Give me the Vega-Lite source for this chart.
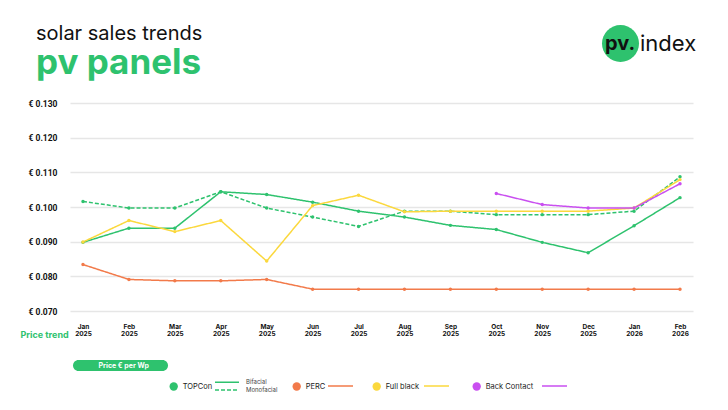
{
  "$schema": "https://vega.github.io/schema/vega-lite/v6.json",
  "width": 623,
  "height": 208,
  "autosize": {"type": "none"},
  "padding": {"left": 70, "top": 103, "right": 35, "bottom": 99},
  "background": "white",
  "config": {
    "view": {"stroke": null},
    "font": "Inter",
    "axisY": {"labelOverlap": false, "labelBound": false, "labelSeparation": 0, "tickCount": 10}
  },
  "title": {
    "text": "solar sales trends",
    "subtitle": "pv panels",
    "anchor": "start",
    "frame": "group",
    "dx": -34,
    "offset": -56,
    "font": "Inter",
    "fontSize": 20,
    "fontWeight": 400,
    "color": "#111111",
    "subtitleFont": "Inter",
    "subtitleFontSize": 35,
    "subtitleFontWeight": 700,
    "subtitleColor": "#2ec26e",
    "subtitlePadding": 2
  },
  "datasets": {
    "prices": [
      {"m": "Jan 2025", "t": "TOPCon", "v": "Bifacial", "p": 0.0898},
      {"m": "Feb 2025", "t": "TOPCon", "v": "Bifacial", "p": 0.0939},
      {"m": "Mar 2025", "t": "TOPCon", "v": "Bifacial", "p": 0.0939},
      {"m": "Apr 2025", "t": "TOPCon", "v": "Bifacial", "p": 0.1044},
      {"m": "May 2025", "t": "TOPCon", "v": "Bifacial", "p": 0.1036},
      {"m": "Jun 2025", "t": "TOPCon", "v": "Bifacial", "p": 0.1014},
      {"m": "Jul 2025", "t": "TOPCon", "v": "Bifacial", "p": 0.0988},
      {"m": "Aug 2025", "t": "TOPCon", "v": "Bifacial", "p": 0.0971},
      {"m": "Sep 2025", "t": "TOPCon", "v": "Bifacial", "p": 0.0947},
      {"m": "Oct 2025", "t": "TOPCon", "v": "Bifacial", "p": 0.0935},
      {"m": "Nov 2025", "t": "TOPCon", "v": "Bifacial", "p": 0.0898},
      {"m": "Dec 2025", "t": "TOPCon", "v": "Bifacial", "p": 0.0868},
      {"m": "Jan 2026", "t": "TOPCon", "v": "Bifacial", "p": 0.0946},
      {"m": "Feb 2026", "t": "TOPCon", "v": "Bifacial", "p": 0.1027},
      {"m": "Jan 2025", "t": "TOPCon", "v": "Monofacial", "p": 0.1016},
      {"m": "Feb 2025", "t": "TOPCon", "v": "Monofacial", "p": 0.0997},
      {"m": "Mar 2025", "t": "TOPCon", "v": "Monofacial", "p": 0.0997},
      {"m": "Apr 2025", "t": "TOPCon", "v": "Monofacial", "p": 0.1044},
      {"m": "May 2025", "t": "TOPCon", "v": "Monofacial", "p": 0.0997},
      {"m": "Jun 2025", "t": "TOPCon", "v": "Monofacial", "p": 0.0971},
      {"m": "Jul 2025", "t": "TOPCon", "v": "Monofacial", "p": 0.0944},
      {"m": "Aug 2025", "t": "TOPCon", "v": "Monofacial", "p": 0.0988},
      {"m": "Sep 2025", "t": "TOPCon", "v": "Monofacial", "p": 0.0988},
      {"m": "Oct 2025", "t": "TOPCon", "v": "Monofacial", "p": 0.0978},
      {"m": "Nov 2025", "t": "TOPCon", "v": "Monofacial", "p": 0.0978},
      {"m": "Dec 2025", "t": "TOPCon", "v": "Monofacial", "p": 0.0978},
      {"m": "Jan 2026", "t": "TOPCon", "v": "Monofacial", "p": 0.0988},
      {"m": "Feb 2026", "t": "TOPCon", "v": "Monofacial", "p": 0.1087},
      {"m": "Jan 2025", "t": "PERC", "v": "Standard", "p": 0.0834},
      {"m": "Feb 2025", "t": "PERC", "v": "Standard", "p": 0.0791},
      {"m": "Mar 2025", "t": "PERC", "v": "Standard", "p": 0.0787},
      {"m": "Apr 2025", "t": "PERC", "v": "Standard", "p": 0.0787},
      {"m": "May 2025", "t": "PERC", "v": "Standard", "p": 0.0791},
      {"m": "Jun 2025", "t": "PERC", "v": "Standard", "p": 0.0763},
      {"m": "Jul 2025", "t": "PERC", "v": "Standard", "p": 0.0763},
      {"m": "Aug 2025", "t": "PERC", "v": "Standard", "p": 0.0763},
      {"m": "Sep 2025", "t": "PERC", "v": "Standard", "p": 0.0763},
      {"m": "Oct 2025", "t": "PERC", "v": "Standard", "p": 0.0763},
      {"m": "Nov 2025", "t": "PERC", "v": "Standard", "p": 0.0763},
      {"m": "Dec 2025", "t": "PERC", "v": "Standard", "p": 0.0763},
      {"m": "Jan 2026", "t": "PERC", "v": "Standard", "p": 0.0763},
      {"m": "Feb 2026", "t": "PERC", "v": "Standard", "p": 0.0763},
      {"m": "Jan 2025", "t": "Full black", "v": "Standard", "p": 0.0899},
      {"m": "Feb 2025", "t": "Full black", "v": "Standard", "p": 0.0961},
      {"m": "Mar 2025", "t": "Full black", "v": "Standard", "p": 0.0929},
      {"m": "Apr 2025", "t": "Full black", "v": "Standard", "p": 0.0961},
      {"m": "May 2025", "t": "Full black", "v": "Standard", "p": 0.0844},
      {"m": "Jun 2025", "t": "Full black", "v": "Standard", "p": 0.1004},
      {"m": "Jul 2025", "t": "Full black", "v": "Standard", "p": 0.1034},
      {"m": "Aug 2025", "t": "Full black", "v": "Standard", "p": 0.0986},
      {"m": "Sep 2025", "t": "Full black", "v": "Standard", "p": 0.0988},
      {"m": "Oct 2025", "t": "Full black", "v": "Standard", "p": 0.0988},
      {"m": "Nov 2025", "t": "Full black", "v": "Standard", "p": 0.0988},
      {"m": "Dec 2025", "t": "Full black", "v": "Standard", "p": 0.0988},
      {"m": "Jan 2026", "t": "Full black", "v": "Standard", "p": 0.0997},
      {"m": "Feb 2026", "t": "Full black", "v": "Standard", "p": 0.1079},
      {"m": "Oct 2025", "t": "Back Contact", "v": "Standard", "p": 0.1039},
      {"m": "Nov 2025", "t": "Back Contact", "v": "Standard", "p": 0.1007},
      {"m": "Dec 2025", "t": "Back Contact", "v": "Standard", "p": 0.0997},
      {"m": "Jan 2026", "t": "Back Contact", "v": "Standard", "p": 0.0997},
      {"m": "Feb 2026", "t": "Back Contact", "v": "Standard", "p": 0.1067}
    ]
  },
  "layer": [
    {
      "data": {"name": "prices"},
      "mark": {"type": "line", "strokeWidth": 1.5},
      "encoding": {
        "x": {
          "field": "m", "type": "ordinal",
          "sort": ["Jan 2025","Feb 2025","Mar 2025","Apr 2025","May 2025","Jun 2025","Jul 2025","Aug 2025","Sep 2025","Oct 2025","Nov 2025","Dec 2025","Jan 2026","Feb 2026"],
          "scale": {"type": "point", "padding": 0.283},
          "axis": {
            "grid": false, "domain": false, "ticks": false, "labelAngle": 0,
            "labelExpr": "split(datum.label, ' ')",
            "labelFont": "Inter", "labelFontSize": 6.5, "labelFontWeight": 700, "labelLineHeight": 7,
            "labelPadding": 12, "labelColor": "#111111",
            "title": "Price trend", "titleX": -50, "titleY": 26, "titleAlign": "left", "titleAnchor": "start",
            "titleBaseline": "alphabetic", "titleColor": "#2ec26e", "titleFont": "Inter", "titleFontSize": 9, "titleFontWeight": 700
          }
        },
        "y": {
          "field": "p", "type": "quantitative",
          "scale": {"domain": [0.07, 0.13], "zero": false, "nice": false},
          "axis": {
            "values": [0.07, 0.08, 0.09, 0.1, 0.11, 0.12, 0.13],
            "tickCount": 10,
            "labelExpr": "'€ ' + format(datum.value, '.3f')",
            "labelOverlap": false, "labelBound": false,
            "domain": false, "ticks": false, "labelPadding": 13,
            "labelFont": "Roboto", "labelFontSize": 8.5, "labelFontWeight": 700, "labelColor": "#111111",
            "gridColor": "#e6e6e6", "gridWidth": 1.6, "title": null
          }
        },
        "stroke": {
          "field": "t", "type": "nominal",
          "scale": {"domain": ["PERC", "Full black", "Back Contact", "TOPCon"], "range": ["#f27a4a", "#fbd83d", "#c94ff0", "#2ec26e"]},
          "legend": {
            "orient": "none", "legendX": 257, "legendY": 279, "direction": "horizontal", "title": null,
            "values": ["PERC", "Full black", "Back Contact"],
            "symbolType": "stroke", "symbolSize": 625, "symbolStrokeWidth": 1.5, "clipHeight": 8,
            "labelFontSize": 1, "labelOffset": 0, "columnPadding": 0,
            "labelExpr": "datum.label == 'PERC' ? '\u200b' + pad('', 69, '\u2003') + '\u200b' : datum.label == 'Full black' ? '\u200b' + pad('', 91, '\u2003') + '\u200b' : '\u200b'"
          }
        },
        "strokeDash": {
          "field": "v", "type": "nominal",
          "scale": {"domain": ["Bifacial", "Monofacial", "Standard"], "range": [[1, 0], [4, 2], [1, 0]]},
          "legend": {
            "orient": "none", "legendX": 144, "legendY": 275.8, "direction": "vertical", "title": null,
            "values": ["Bifacial", "Monofacial"],
            "symbolType": "stroke", "symbolSize": 576, "symbolStrokeColor": "#2ec26e", "symbolStrokeWidth": 1.5,
            "clipHeight": 7, "rowPadding": 0.7,
            "labelFont": "Inter", "labelFontSize": 6, "labelColor": "#444444", "labelOffset": 6
          }
        }
      }
    },
    {
      "data": {"name": "prices"},
      "mark": {"type": "point", "filled": true, "size": 12, "opacity": 1},
      "encoding": {
        "x": {
          "field": "m", "type": "ordinal",
          "sort": ["Jan 2025","Feb 2025","Mar 2025","Apr 2025","May 2025","Jun 2025","Jul 2025","Aug 2025","Sep 2025","Oct 2025","Nov 2025","Dec 2025","Jan 2026","Feb 2026"]
        },
        "y": {"field": "p", "type": "quantitative"},
        "fill": {
          "field": "t", "type": "nominal",
          "scale": {"domain": ["TOPCon", "PERC", "Full black", "Back Contact"], "range": ["#2ec26e", "#f27a4a", "#fbd83d", "#c94ff0"]},
          "legend": {
            "orient": "none", "legendX": 98.7, "legendY": 279, "direction": "horizontal", "title": null,
            "symbolType": "circle", "symbolSize": 70, "clipHeight": 9,
            "labelFont": "Inter", "labelFontSize": 7.5, "labelColor": "#222222", "labelOffset": 4, "columnPadding": 0,
            "labelExpr": "datum.label == 'TOPCon' ? 'TOPCon' + pad('', 10, '\u2003') + '\u2002\u200b' : datum.label == 'PERC' ? 'PERC' + pad('', 6, '\u2003') + '\u2009\u200b' : datum.label == 'Full black' ? 'Full black' + pad('', 7, '\u2003') + '\u200b' : datum.label"
          }
        }
      }
    },
    {
      "data": {"values": []},
      "mark": {"type": "point", "opacity": 0, "size": 0, "strokeWidth": 0},
      "encoding": {
        "shape": {
          "field": "unit", "type": "nominal", "scale": {"domain": ["Price € per Wp"], "range": ["circle"]},
          "legend": {
            "orient": "none", "legendX": 3, "legendY": 257, "title": null,
            "fillColor": "#2ec26e", "cornerRadius": 6, "padding": 2,
            "symbolSize": 0, "symbolOpacity": 0, "symbolStrokeWidth": 0, "labelOffset": 0,
            "labelFont": "Inter", "labelFontSize": 7, "labelFontWeight": 700, "labelColor": "white",
            "labelExpr": "'\u200b' + pad('', 10, '\u00a0') + datum.label + pad('', 10, '\u00a0') + '\u200b'"
          }
        }
      }
    },
    {
      "data": {"values": []},
      "mark": {"type": "point", "filled": true, "color": "#2ec26e", "size": 1369, "strokeWidth": 0},
      "encoding": {
        "opacity": {
          "field": "brand", "type": "nominal", "scale": {"type": "ordinal", "domain": ["pv."], "range": [1]},
          "legend": {
            "orient": "none", "legendX": 532, "legendY": -78, "padding": 0,
            "title": "index", "titleOrient": "right", "titleFont": "Inter", "titleFontSize": 22, "titleFontWeight": 400,
            "titleColor": "#111111", "titlePadding": 1,
            "symbolType": "circle", "symbolSize": 1369, "symbolFillColor": "#2ec26e", "symbolStrokeWidth": 0,
            "labelFont": "Inter", "labelFontSize": 20, "labelFontWeight": 700, "labelColor": "#111111", "labelOffset": -34
          }
        }
      }
    }
  ]
}
